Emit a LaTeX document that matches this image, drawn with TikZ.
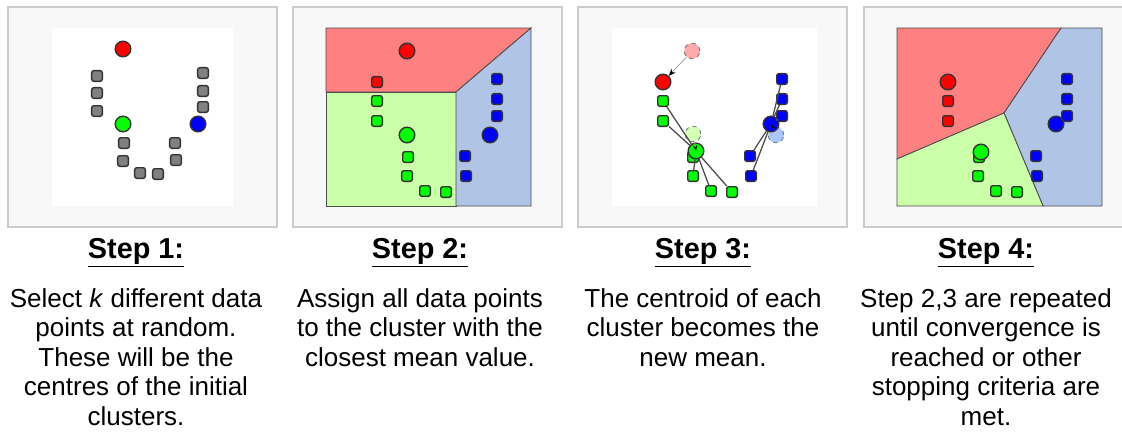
\documentclass[tikz,border=0pt]{standalone}
\usepackage{fontspec}
\setmainfont{Liberation Sans}
\usetikzlibrary{arrows.meta}

\definecolor{kred}{HTML}{FF0000}
\definecolor{kgreen}{HTML}{00FF00}
\definecolor{kblue}{HTML}{0000FF}
\definecolor{kgray}{HTML}{808080}
\definecolor{regred}{HTML}{FF8080}
\definecolor{reggreen}{HTML}{CCFFAA}
\definecolor{regblue}{HTML}{B0C4E6}
\definecolor{oldred}{HTML}{FFAAAA}
\definecolor{oldgreen}{HTML}{D4FFB4}
\definecolor{oldblue}{HTML}{AAC8FF}
\definecolor{panelbg}{HTML}{F8F8F8}
\definecolor{panelline}{HTML}{CCCCCC}

\tikzset{
  panel/.style={fill=panelbg,draw=panelline,line width=0.8pt},
  sq/.style={shape=rectangle,rounded corners=1.5pt,draw=black!80,line width=1pt,minimum size=0.265cm,inner sep=0pt},
  ctr/.style={shape=circle,draw=black!80,line width=1pt,minimum size=0.39cm,inner sep=0pt},
  oldctr/.style={shape=circle,dashed,draw=black!55,line width=0.6pt,minimum size=0.39cm,inner sep=0pt},
  region/.style={draw=black!70,line width=0.6pt},
  link/.style={draw=black!70,line width=0.9pt},
  heading/.style={font=\fontsize{20.5pt}{24pt}\selectfont\bfseries,anchor=base,inner sep=0pt},
  desc/.style={font=\fontsize{18.5pt}{21pt}\selectfont,align=center,anchor=north,inner sep=0pt}
}

\begin{document}
\begin{tikzpicture}[x=0.025cm,y=-0.025cm]
\clip (0,0) rectangle (1122,435);
\fill[white] (0,0) rectangle (1122,435);

% panels
\draw[panel] (8,7) rectangle (277,227);
\draw[panel] (293,7) rectangle (562,227);
\draw[panel] (578,7) rectangle (847,227);
\draw[panel] (864,7) rectangle (1140,227);
\fill[white] (52,28) rectangle (233,206);
\fill[white] (612,28) rectangle (817,206);

% step 1
\node[ctr,fill=kred] (ar) at (123,49) {};
\node[sq,fill=kgray] (a1) at (97,76) {};
\node[sq,fill=kgray] (a2) at (97,93) {};
\node[sq,fill=kgray] (a3) at (97,111) {};
\node[sq,fill=kgray] (a4) at (203,73) {};
\node[sq,fill=kgray] (a5) at (203,91) {};
\node[sq,fill=kgray] (a6) at (203,107) {};
\node[ctr,fill=kgreen] (ag) at (123,124) {};
\node[ctr,fill=kblue] (ab) at (198,124) {};
\node[sq,fill=kgray] (a7) at (124,143) {};
\node[sq,fill=kgray] (a8) at (123,161) {};
\node[sq,fill=kgray] (a9) at (140,173) {};
\node[sq,fill=kgray] (a10) at (158,174) {};
\node[sq,fill=kgray] (a11) at (175,143) {};
\node[sq,fill=kgray] (a12) at (176,160) {};

% step 2
\filldraw[region,fill=regred] (326,28) -- (531,28) -- (456,92) -- (326,92) -- cycle;
\filldraw[region,fill=reggreen] (326,92) -- (456,92) -- (456,206) -- (326,206) -- cycle;
\filldraw[region,fill=regblue] (456,92) -- (531,28) -- (531,206) -- (456,206) -- cycle;
\node[ctr,fill=kred] (br) at (407,51) {};
\node[sq,fill=kred] (b1) at (377,82) {};
\node[sq,fill=kgreen] (b2) at (377,101) {};
\node[sq,fill=kgreen] (b3) at (377,121) {};
\node[ctr,fill=kgreen] (bg) at (407,135) {};
\node[sq,fill=kgreen] (b4) at (408,157) {};
\node[sq,fill=kgreen] (b5) at (407,176) {};
\node[sq,fill=kgreen] (b6) at (425,191) {};
\node[sq,fill=kgreen] (b7) at (446,192) {};
\node[sq,fill=kblue] (b8) at (497,79) {};
\node[sq,fill=kblue] (b9) at (497,99) {};
\node[sq,fill=kblue] (b10) at (497,116) {};
\node[ctr,fill=kblue] (bb) at (490,135) {};
\node[sq,fill=kblue] (b11) at (465,156) {};
\node[sq,fill=kblue] (b12) at (466,176) {};

% step 3
\node[oldctr,fill=oldred] (crold) at (692,51) {};
\node[oldctr,fill=oldgreen] (cgold) at (693,134) {};
\node[oldctr,fill=oldblue] (cbold) at (776,135) {};
\node[ctr,fill=kred] (cr) at (663,82) {};
\node[sq,fill=kgreen] (c2) at (663,101) {};
\node[sq,fill=kgreen] (c3) at (663,121) {};
\node[sq,fill=kgreen] (c4) at (693,157) {};
\node[ctr,fill=kgreen] (cg) at (696,151) {};
\node[sq,fill=kgreen] (c5) at (693,176) {};
\node[sq,fill=kgreen] (c6) at (711,191) {};
\node[sq,fill=kgreen] (c7) at (732,192) {};
\node[sq,fill=kblue] (c8) at (782,79) {};
\node[sq,fill=kblue] (c9) at (782,99) {};
\node[sq,fill=kblue] (c10) at (782,116) {};
\node[ctr,fill=kblue] (cb) at (771,124) {};
\node[sq,fill=kblue] (c11) at (750,156) {};
\node[sq,fill=kblue] (c12) at (751,176) {};

\path[link] (c2) edge (cg) (c3) edge (cg) (c5) edge (cg) (c6) edge (cg) (c7) edge (cg);
\path[link] (c8) edge (cb) (c9) edge (cb) (c10) edge (cb) (c11) edge (cb) (c12) edge (cb);
\draw[black!40,line width=0.5pt,-{Stealth[black,length=5pt,width=4pt]}] (crold) -- (cr);
\draw[black!40,line width=0.5pt,-{Stealth[black,length=4pt,width=3pt]}] (cgold) -- (cg.center);
\draw[black!40,line width=0.5pt,-{Stealth[black,length=4pt,width=3pt]}] (cbold) -- (cb.center);

% step 4
\filldraw[region,fill=regred] (897,28) -- (1061,28) -- (1004,113) -- (897,159) -- cycle;
\filldraw[region,fill=regblue] (1061,28) -- (1102,28) -- (1102,206) -- (1043,206) -- (1004,113) -- cycle;
\filldraw[region,fill=reggreen] (897,159) -- (1004,113) -- (1043,206) -- (897,206) -- cycle;
\node[ctr,fill=kred] (dr) at (948,82) {};
\node[sq,fill=kred] (d2) at (948,101) {};
\node[sq,fill=kred] (d3) at (948,121) {};
\node[sq,fill=kgreen] (d4) at (979,157) {};
\node[ctr,fill=kgreen] (dg) at (981,152) {};
\node[sq,fill=kgreen] (d5) at (978,176) {};
\node[sq,fill=kgreen] (d6) at (996,191) {};
\node[sq,fill=kgreen] (d7) at (1017,192) {};
\node[sq,fill=kblue] (d8) at (1067,79) {};
\node[sq,fill=kblue] (d9) at (1067,99) {};
\node[sq,fill=kblue] (d10) at (1067,116) {};
\node[ctr,fill=kblue] (db) at (1056,124) {};
\node[sq,fill=kblue] (d11) at (1036,156) {};
\node[sq,fill=kblue] (d12) at (1037,176) {};

% captions
\node[heading] (h1) at (136,258) {\underline{Step 1:}};
\node[heading] (h2) at (420,258) {\underline{Step 2:}};
\node[heading] (h3) at (703,258) {\underline{Step 3:}};
\node[heading] (h4) at (986,258) {\underline{Step 4:}};
\node[desc] (t1) at (136,288) {Select \textit{k} different data\\points at random.\\These will be the\\centres of the initial\\clusters.};
\node[desc] (t2) at (420,288) {Assign all data points\\to the cluster with the\\closest mean value.};
\node[desc] (t3) at (703,288) {The centroid of each\\cluster becomes the\\new mean.};
\node[desc] (t4) at (986,288) {Step 2,3 are repeated\\until convergence is\\reached or other\\stopping criteria are\\met.};
\end{tikzpicture}
\end{document}
